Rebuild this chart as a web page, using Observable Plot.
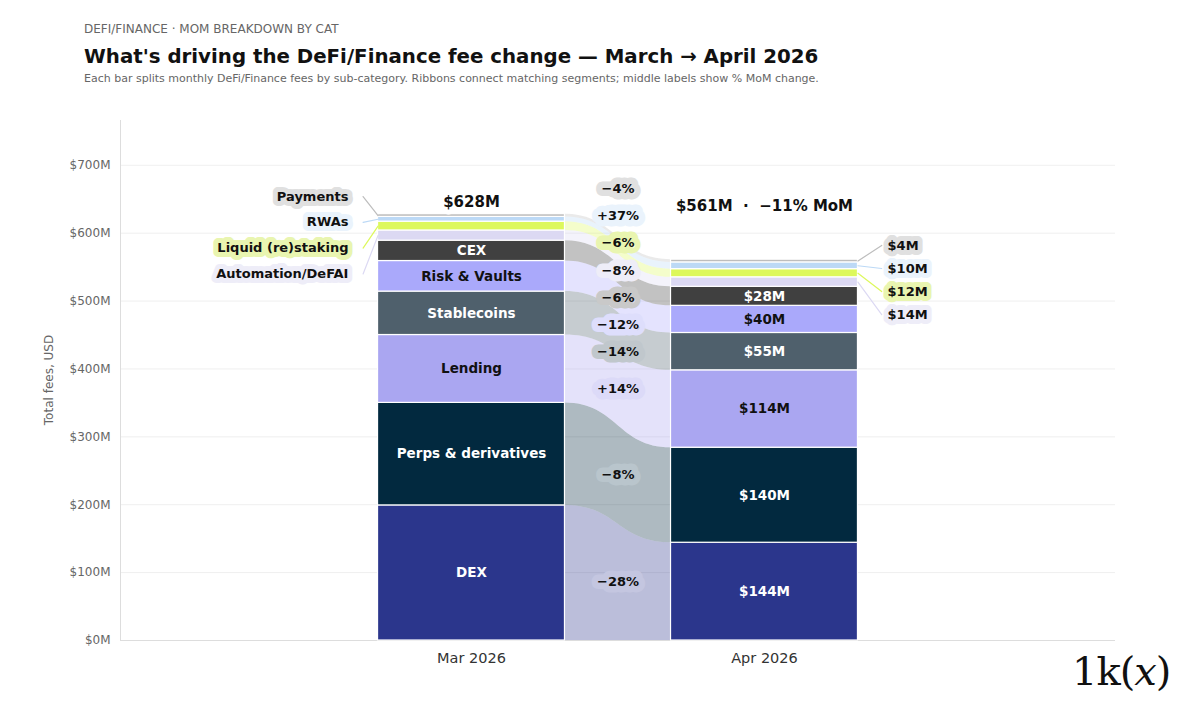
<!DOCTYPE html>
<html><head><meta charset="utf-8">
<script src="https://cdn.jsdelivr.net/npm/d3@7"></script>
<script src="https://cdn.jsdelivr.net/npm/@observablehq/plot@0.6"></script>
<style>
body{margin:0;background:#fff;font-family:"DejaVu Sans",sans-serif;width:1200px;height:711px;position:relative;overflow:hidden}
#kick{position:absolute;left:84px;top:22px;font-size:12px;color:#666}
#title{position:absolute;left:84px;top:45px;font-size:19.8px;font-weight:bold;color:#111}
#sub{position:absolute;left:84px;top:72px;font-size:11px;color:#666}
#chart{position:absolute;left:0;top:95px}
#ylab{position:absolute;left:49px;top:380px;font-size:12px;color:#666;transform:translate(-50%,-50%) rotate(-90deg);white-space:nowrap}
#logo{position:absolute;left:1072px;top:648px;font-size:40px;font-family:"DejaVu Serif",serif;color:#111;letter-spacing:-1px}
</style></head><body>
<div id="kick">DEFI/FINANCE · MOM BREAKDOWN BY CAT</div>
<div id="title">What's driving the DeFi/Finance fee change — March → April 2026</div>
<div id="sub">Each bar splits monthly DeFi/Finance fees by sub-category. Ribbons connect matching segments; middle labels show % MoM change.</div>
<div id="chart"></div>
<div id="ylab">Total fees, USD</div>
<div id="logo">1k(<i>x</i>)</div>
<script>
const months = ["Mar 2026","Apr 2026"];
const cats = ["DEX","Perps & derivatives","Lending","Stablecoins","Risk & Vaults","CEX","Automation/DeFAI","Liquid (re)staking","RWAs","Payments"];
const mar = [199,151,100,64,45,30,15,13,7,4];
const apr = [144,140,114,55,40,28,14,12,10,4];
const pctLabels = ["−28%","−8%","+14%","−14%","−12%","−6%","−8%","−6%","+37%","−4%"];
const colors = ["#2b368c","#02293f","#aaa6f1","#4f606c","#aaa9fb","#404040","#dcd9f3","#ddf85c","#bcd9f6","#bdbdbd"];
const labelBg = ["#c4c6e0","#b9c5cc","#dcdaf8","#c0c7cc","#dedefc","#c9c9c9","#eeedf8","#e9f5b0","#eaf3fc","#e0e0e0"];
const darkText = [true,true,false,true,false,true,false,false,false,false];
const yTicks = [0,100,200,300,400,500,600,700];

const W = 0.319;
const segs = [], ribbons = [], inner = [], mids = [], leftL = [], rightL = [], lines = [];
let c0 = 0, c1 = 0;
cats.forEach((c,i)=>{
  const a0=c0, a1=c0+mar[i], b0=c1, b1=c1+apr[i];
  segs.push({xa:-W,xb:W,ya:a0,yb:a1,i});
  segs.push({xa:1-W,xb:1+W,ya:b0,yb:b1,i});
  ribbons.push({x:W,lo:a0,hi:a1,i},{x:1-W,lo:b0,hi:b1,i});
  if(i<6){
    inner.push({x:0,y:(a0+a1)/2,t:c,i});
    inner.push({x:1,y:(b0+b1)/2,t:"$"+apr[i]+"M",i});
  }
  mids.push({x:0.5,y:(a0+a1+b0+b1)/4,t:pctLabels[i],i});
  if(i>=6){
    const ly=[540,578,616,654][i-6], ry=[480,514,548,582][i-6];
    leftL.push({x:-0.42,y:ly,t:c,i});
    rightL.push({x:1.42,y:ry,t:"$"+apr[i]+"M",i});
    lines.push({x:-0.37,y:ly,g:"l"+i,i},{x:-W,y:(a0+a1)/2,g:"l"+i,i});
    lines.push({x:1+W,y:(b0+b1)/2,g:"r"+i,i},{x:1.40,y:ry,g:"r"+i,i});
  }
  c0=a1;c1=b1;
});
// simple label relaxation to reduce overlaps of middle labels
const gap = 40;
for(let it=0;it<200;it++){
  for(let k=0;k<mids.length-1;k++){
    const a=mids[k], b=mids[k+1];
    const d=b.y-a.y;
    if(d<gap){const s=(gap-d)/2*0.5; a.y-=s; b.y+=s;}
  }
}
const totalMar = d3.sum(mar), totalApr = d3.sum(apr);

const plot = Plot.plot({
  width:1200,height:575,marginLeft:120,marginRight:85,marginTop:25,marginBottom:30,
  style:{fontFamily:"DejaVu Sans, sans-serif",fontSize:"12px",color:"#666"},
  x:{domain:[-1.198,2.198],axis:null},
  y:{domain:[0,766],ticks:yTicks,tickFormat:d=>"$"+d+"M",grid:true,label:null,tickSize:0,tickPadding:10},
  marks:[
    Plot.ruleX([-1.198],{stroke:"#ddd"}),
    Plot.ruleY([0],{stroke:"#ddd"}),
    ...cats.map((c,i)=>Plot.areaY(ribbons.filter(d=>d.i===i),{x:"x",y1:"lo",y2:"hi",curve:"bump-x",fill:colors[i],fillOpacity:0.32})),
    Plot.rect(segs,{x1:"xa",x2:"xb",y1:"ya",y2:"yb",fill:d=>colors[d.i],stroke:"white",strokeWidth:1.2}),
    Plot.text(inner,{x:"x",y:"y",text:"t",fill:d=>darkText[d.i]?"white":"#111",fontWeight:"bold",fontSize:13.5}),
    Plot.text(mids,{x:"x",y:"y",text:"t",fill:"#111",fontWeight:"bold",fontSize:13,stroke:d=>labelBg[d.i],strokeWidth:13,strokeLinejoin:"round",paintOrder:"stroke"}),
    Plot.line(lines,{x:"x",y:"y",z:"g",stroke:d=>colors[d.i],strokeWidth:1.2}),
    Plot.text(leftL,{x:"x",y:"y",text:"t",textAnchor:"end",fill:"#111",fontWeight:"bold",fontSize:13,stroke:d=>labelBg[d.i],strokeWidth:10,strokeLinejoin:"round",paintOrder:"stroke"}),
    Plot.text(rightL,{x:"x",y:"y",text:"t",textAnchor:"start",fill:"#111",fontWeight:"bold",fontSize:13,stroke:d=>labelBg[d.i],strokeWidth:10,strokeLinejoin:"round",paintOrder:"stroke"}),
    Plot.text([{x:0,y:totalMar,t:"$"+totalMar+"M"}],{x:"x",y:"y",text:"t",dy:-12,fill:"#111",fontWeight:"bold",fontSize:15,stroke:"white",strokeWidth:10,paintOrder:"stroke"}),
    Plot.text([{x:1,y:totalApr,t:"$"+totalApr+"M  ·  −11% MoM"}],{x:"x",y:"y",text:"t",dy:-53,fill:"#111",fontWeight:"bold",fontSize:15,stroke:"white",strokeWidth:10,paintOrder:"stroke"}),
    Plot.text(months.map((m,i)=>({x:i,t:m})),{x:"x",y:0,text:"t",dy:12,fill:"#333",fontSize:14.5,lineAnchor:"top"})
  ]
});
document.getElementById("chart").appendChild(plot);
</script></body></html>
